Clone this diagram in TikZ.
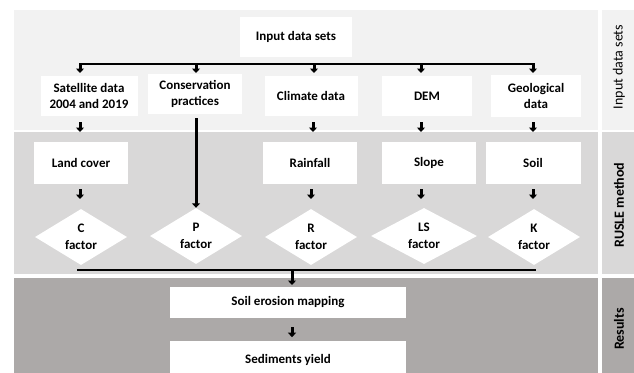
\documentclass[tikz,border=0pt]{standalone}
\usepackage{fontspec}
\setmainfont{Carlito}
\usetikzlibrary{shapes.geometric,arrows.meta,calc}
\definecolor{bandA}{HTML}{F2F2F2}
\definecolor{bandB}{HTML}{D9D8D8}
\definecolor{bandC}{HTML}{ACA9A8}
\tikzset{
  box/.style={fill=white,draw=none,inner sep=0pt,align=center,font=\fontsize{13}{16}\selectfont\bfseries},
  dia/.style={shape=diamond,fill=white,draw=none,inner sep=0pt,aspect=1.64,minimum width=92pt,minimum height=56pt,align=center,font=\fontsize{13}{17}\selectfont\bfseries},
  arr/.style={line width=3pt,-{Triangle[length=4.5pt,width=8pt]}},
  side/.style={rotate=90,font=\fontsize{14}{16}\selectfont},
}
\begin{document}
\begin{tikzpicture}[x=1pt,y=-1pt]
\useasboundingbox (0,0) rectangle (634,372);
\clip (0,0) rectangle (634,372);
% bands
\fill[bandA] (14,10) rectangle (598,130);
\fill[bandB] (14,132) rectangle (598,274);
\fill[bandC] (14,278) rectangle (598,380);
\fill[bandA] (602,10) rectangle (634,130);
\fill[bandB] (602,132) rectangle (634,274);
\fill[bandC] (602,278) rectangle (634,380);
\node[side] (s1) at (619,67) {Input data sets};
\node[side,font=\fontsize{14}{16}\selectfont\bfseries] (s2) at (619,205) {RUSLE method};
\node[side,font=\fontsize{14}{16}\selectfont\bfseries] (s3) at (619,329) {Results};
% input
\node[box,minimum width=112pt,minimum height=40pt] (in) at (296,37) {Input data sets};
% first row
\node[box,minimum width=97pt,minimum height=40pt] (sat) at (89,96) {Satellite data\\2004 and 2019};
\node[box,minimum width=94pt,minimum height=40pt] (con) at (195,94) {Conservation\\practices};
\node[box,minimum width=93pt,minimum height=40pt] (cli) at (311,96) {Climate data};
\node[box,minimum width=90pt,minimum height=40pt] (dem) at (427,96) {DEM};
\node[box,minimum width=90pt,minimum height=42pt] (geo) at (536,96) {Geological\\data};
% second row
\node[box,minimum width=94pt,minimum height=42pt] (lan) at (81,163) {Land cover};
\node[box,minimum width=94pt,minimum height=42pt] (rai) at (310,163) {Rainfall};
\node[box,minimum width=94pt,minimum height=42pt] (slo) at (429,163) {Slope};
\node[box,minimum width=95pt,minimum height=42pt] (soi) at (533,163) {Soil};
% diamonds
\node[dia] (c) at (81,237) {C\\factor};
\node[dia] (p) at (196,236) {P\\factor};
\node[dia] (r) at (311,237) {R\\factor};
\node[dia,minimum width=106pt] (ls) at (424,236) {LS\\factor};
\node[dia] (k) at (534,237) {K\\factor};
% results
\node[box,minimum width=236pt,minimum height=31pt] (sem) at (288,302.5) {Soil erosion mapping};
\node[box,minimum width=236pt,minimum height=38pt] (sed) at (288,360) {Sediments yield};
% top distribution line
\coordinate (tl) at (80,64);
\coordinate (tr) at (533,64);
\draw[line width=2pt] (tl) -- (tr);
\foreach \x in {80,196,314,421,533}{
  \draw[arr] (\x,63) -- (\x,73);
}
% row1 -> row2 arrows
\foreach \x in {80,313,421,533}{
  \draw[arr] (\x,122) -- (\x,132);
}
\draw[arr] (196,118) -- (p.north);
% row2 -> diamonds
\foreach \x in {80,311,421,533}{
  \draw[arr] (\x,189) -- (\x,199);
}
% collecting line
\coordinate (bl) at (77,270);
\coordinate (br) at (536,270);
\draw[line width=1.8pt] (bl) -- (br);
\draw[arr] (292,269) -- (292,285);
\draw[arr] (sem.south) ++(4,9) -- ++(0,10);
\end{tikzpicture}
\end{document}
